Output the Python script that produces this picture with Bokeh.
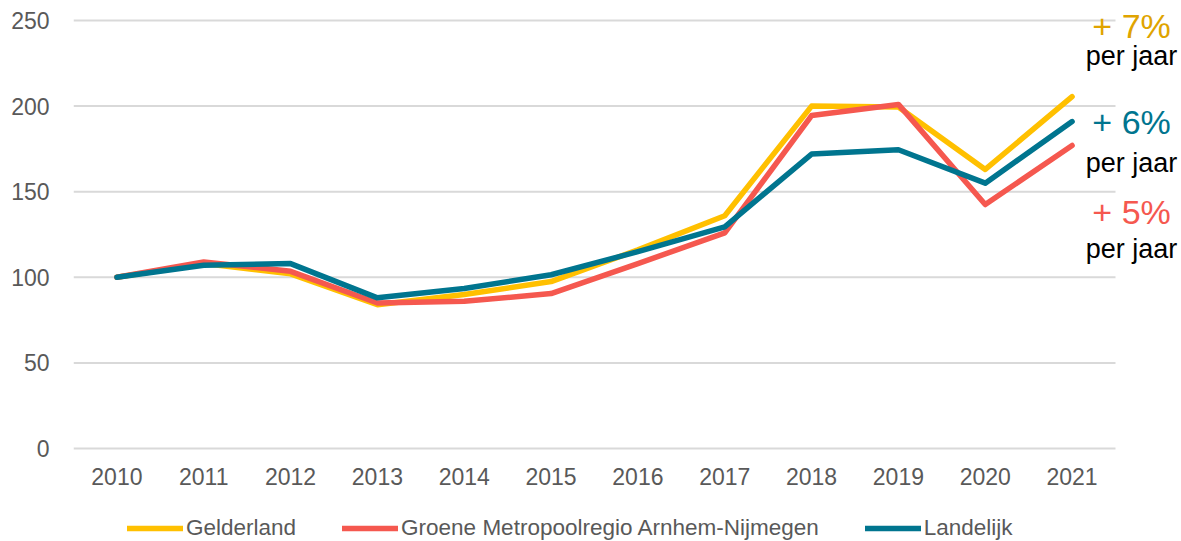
from bokeh.plotting import figure
from bokeh.layouts import column
from bokeh.models import Range1d, Legend, LegendItem, FixedTicker, ColumnDataSource
from bokeh.core.properties import value
from bokeh.embed import file_html
from bokeh.resources import INLINE

years = ["2010", "2011", "2012", "2013", "2014", "2015", "2016", "2017", "2018", "2019", "2020", "2021"]
gelderland = [100, 108, 102, 84, 90, 97.5, 116, 136, 200, 199.5, 163, 205.5]
groene = [100, 109, 103.5, 85, 86, 90.5, 108, 126, 194.5, 201, 142.5, 177]
landelijk = [100, 107, 108, 88, 93.5, 101.5, 115, 129.5, 172, 174.5, 155, 191]
y_ticks = [0, 50, 100, 150, 200, 250]

series_names = ["Gelderland", "Groene Metropoolregio Arnhem-Nijmegen", "Landelijk"]
growth_labels = ["+ 7%", "+ 6%", "+ 5%"]
sub_label = "per jaar"

FONT = "Liberation Sans"
GOLD = "#FFC000"
RED = "#F5584F"
TEAL = "#00758F"
GREY = "#595959"

xs = list(range(len(years)))
n = len(years)

p = figure(width=1181, height=500,
           x_range=Range1d(-0.5, 12.26), y_range=Range1d(-1.75, 261.7),
           output_backend="svg", toolbar_location=None,
           min_border_left=73, min_border_right=0, min_border_top=0, min_border_bottom=49)
p.outline_line_color = None
p.background_fill_color = "white"
p.border_fill_color = "white"
p.grid.grid_line_color = None

p.xaxis.ticker = FixedTicker(ticks=xs)
p.xaxis.major_label_overrides = {i: y for i, y in zip(xs, years)}
p.yaxis.ticker = FixedTicker(ticks=y_ticks)

for ax in (p.xaxis, p.yaxis):
    ax.axis_line_color = None
    ax.major_tick_line_color = None
    ax.minor_tick_line_color = None
    ax.major_label_text_font = FONT
    ax.major_label_text_font_size = "23px"
    ax.major_label_text_color = GREY
p.yaxis.major_label_standoff = 18
p.xaxis.major_label_standoff = 10

# horizontal gridlines spanning the category area only
p.segment(x0=[-0.5] * len(y_ticks), x1=[n - 0.5] * len(y_ticks), y0=y_ticks, y1=y_ticks,
          line_color="#D9D9D9", line_width=2)

p.line(xs, gelderland, line_color=GOLD, line_width=5.5, line_cap="round", line_join="round")
p.line(xs, groene, line_color=RED, line_width=5.5, line_cap="round", line_join="round")
p.line(xs, landelijk, line_color=TEAL, line_width=5.5, line_cap="round", line_join="round")

# growth annotations to the right of the last year
ann_x = n - 1 + 0.685
ann = ColumnDataSource(dict(
    x=[ann_x] * 6,
    y=[246.6, 229.0, 190.5, 166.7, 138.0, 116.3],
    text=[growth_labels[0], sub_label, growth_labels[1], sub_label, growth_labels[2], sub_label],
    color=["#E0A400", "black", TEAL, "black", RED, "black"],
    size=["34px", "27px", "34px", "27px", "34px", "27px"],
))
p.text(x="x", y="y", text="text", source=ann, text_color="color", text_font_size="size",
       text_font=value(FONT), text_align="center", text_baseline="middle")

# legend strip below the chart
lg = figure(width=1181, height=41, x_range=Range1d(0, 1), y_range=Range1d(0, 1),
            output_backend="svg", toolbar_location=None,
            x_axis_location=None, y_axis_location=None,
            min_border_left=0, min_border_right=0, min_border_top=0, min_border_bottom=0)
lg.outline_line_color = None
lg.grid.grid_line_color = None
q1 = lg.line([-2, -3], [-2, -3], line_color=GOLD, line_width=5.5, line_cap="round")
q2 = lg.line([-2, -3], [-2, -3], line_color=RED, line_width=5.5, line_cap="round")
q3 = lg.line([-2, -3], [-2, -3], line_color=TEAL, line_width=5.5, line_cap="round")
legend = Legend(items=[LegendItem(label=series_names[0], renderers=[q1]),
                       LegendItem(label=series_names[1], renderers=[q2]),
                       LegendItem(label=series_names[2], renderers=[q3])],
                orientation="horizontal", location=(54, 0),
                glyph_width=56, glyph_height=20, label_height=20, label_standoff=3,
                spacing=46, padding=0, margin=0,
                border_line_color=None, background_fill_alpha=0,
                label_text_font=FONT, label_text_font_size="22.5px", label_text_color=GREY)
lg.add_layout(legend)

open("out.html", "w").write(file_html(column(p, lg), INLINE))
